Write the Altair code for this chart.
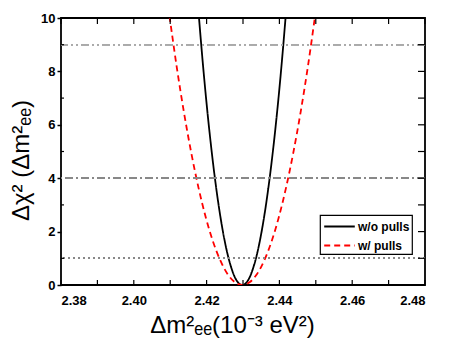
import altair as alt
import pandas as pd

# values
black_x = [2.4178, 2.4188, 2.4198, 2.4208, 2.4218, 2.4228, 2.4238, 2.4248, 2.4258,
           2.4268, 2.4278, 2.4288, 2.4298, 2.4308, 2.4318, 2.4328, 2.4338, 2.4348,
           2.4358, 2.4368, 2.4378, 2.4388, 2.4398, 2.4408, 2.4418]
black_y = [10.19, 8.56, 7.07, 5.73, 4.53, 3.47, 2.55, 1.77, 1.13, 0.64, 0.28, 0.07, 0.0,
           0.07, 0.28, 0.64, 1.13, 1.77, 2.55, 3.47, 4.53, 5.73, 7.07, 8.56, 10.19]
red_x = [2.4098, 2.4118, 2.4138, 2.4158, 2.4178, 2.4198, 2.4218, 2.4238, 2.4258, 2.4278,
         2.4298, 2.4318, 2.4338, 2.4358, 2.4378, 2.4398, 2.4418, 2.4438, 2.4458, 2.4478, 2.4498]
red_y = [10.08, 8.16, 6.45, 4.94, 3.63, 2.52, 1.61, 0.91, 0.40, 0.10, 0.0,
         0.10, 0.40, 0.91, 1.61, 2.52, 3.63, 4.94, 6.45, 8.16, 10.08]
series_names = ["w/o pulls", "w/ pulls"]
series_colors = ["#000000", "#ff0000"]
ref_levels = [1, 4, 9]
x_label_values = [2.38, 2.40, 2.42, 2.44, 2.46, 2.48]
x_tick_values = [2.38, 2.39, 2.40, 2.41, 2.42, 2.43, 2.44, 2.45, 2.46, 2.47, 2.48]
y_label_values = [0, 2, 4, 6, 8, 10]
y_tick_values = [0, 1, 2, 3, 4, 5, 6, 7, 8, 9, 10]
y_minor_values = [1, 3, 5, 7, 9]

W, H = 364, 267
FONT = "Liberation Sans"

curves = pd.DataFrame({
    "x": black_x + red_x,
    "y": black_y + red_y,
    "series": [series_names[0]] * len(black_x) + [series_names[1]] * len(red_x),
})

xscale = alt.Scale(domain=[2.38, 2.48], nice=False, zero=False)
yscale = alt.Scale(domain=[0, 10], nice=False)

X = alt.X("x:Q", scale=xscale, axis=alt.Axis(
    values=x_label_values, format=".2f", ticks=False, grid=False, domain=False,
    labelFont=FONT, labelFontWeight="bold", labelFontSize=13, labelColor="black",
    labelPadding=9, title="Δm²ₑₑ(10⁻³ eV²)", titleFont=FONT, titleFontSize=24,
    titleFontWeight="normal", titleColor="black", titleX=171, titleY=47,
    titleAlign="center", titleBaseline="alphabetic"))
Y = alt.Y("y:Q", scale=yscale, axis=alt.Axis(
    values=y_label_values, tickSize=4, tickWidth=1.5, tickColor="black", grid=False,
    domain=False, labelFont=FONT, labelFontWeight="bold", labelFontSize=13,
    labelColor="black", labelPadding=2, title="Δχ² (Δm²ₑₑ)", titleFont=FONT,
    titleFontSize=24, titleFontWeight="normal", titleColor="black", titleAngle=270,
    titleX=-33, titleY=142, titleAlign="center", titleBaseline="alphabetic"))

ref_styles = {1: ("#888888", [1.5, 3.5]), 4: ("#888888", [8, 3, 2, 3]), 9: ("#aaaaaa", [8, 3, 2, 3, 2, 3])}
ref_layers = [
    alt.Chart(curves).mark_rule(color=ref_styles[lv][0], strokeDash=ref_styles[lv][1],
                                strokeWidth=1.2).encode(y=alt.datum(lv))
    for lv in ref_levels
]

lines = alt.Chart(curves).mark_line(clip=True, strokeWidth=1.8, interpolate="monotone").encode(
    x=X, y=Y,
    color=alt.Color("series:N", scale=alt.Scale(domain=series_names, range=series_colors),
                    legend=alt.Legend(title=None)),
    strokeDash=alt.StrokeDash("series:N", scale=alt.Scale(domain=series_names, range=[[1, 0], [6, 4]]),
                              legend=alt.Legend(title=None)),
)

xt = pd.DataFrame({"x": x_tick_values})
yt = pd.DataFrame({"y": y_tick_values})
ym = pd.DataFrame({"y": y_minor_values})
top_ticks = alt.Chart(xt).mark_rule(color="black", strokeWidth=1.2).encode(
    x=alt.X("x:Q", scale=xscale), y=alt.value(0), y2=alt.value(6))
bot_ticks = alt.Chart(xt).mark_rule(color="black", strokeWidth=1.2).encode(
    x=alt.X("x:Q", scale=xscale), y=alt.value(H), y2=alt.value(H - 5))
right_ticks = alt.Chart(yt).mark_rule(color="black", strokeWidth=1.2).encode(
    y=alt.Y("y:Q", scale=yscale), x=alt.value(W), x2=alt.value(W - 7))
left_minor = alt.Chart(ym).mark_rule(color="black", strokeWidth=1.2).encode(
    y=alt.Y("y:Q", scale=yscale), x=alt.value(0), x2=alt.value(3))

chart = alt.layer(lines, *ref_layers, top_ticks, bot_ticks, right_ticks, left_minor).properties(
    width=W, height=H,
    autosize=alt.AutoSizeParams(type="none"),
    padding={"left": 53, "top": 10, "right": 17, "bottom": 53},
).configure_view(stroke="black", strokeWidth=1.8).configure_legend(
    orient="none", legendX=259, legendY=197, strokeColor="black", strokeWidth=1.2,
    fillColor="white", padding=2, symbolType="M-1.8,0H1.8", symbolSize=289,
    symbolOffset=8, symbolStrokeWidth=2, labelFont=FONT, labelFontWeight="bold",
    labelFontSize=12, labelColor="black", labelOffset=9, rowPadding=3,
)

chart.save("out.html", embed_options={"renderer": "svg", "actions": False})
